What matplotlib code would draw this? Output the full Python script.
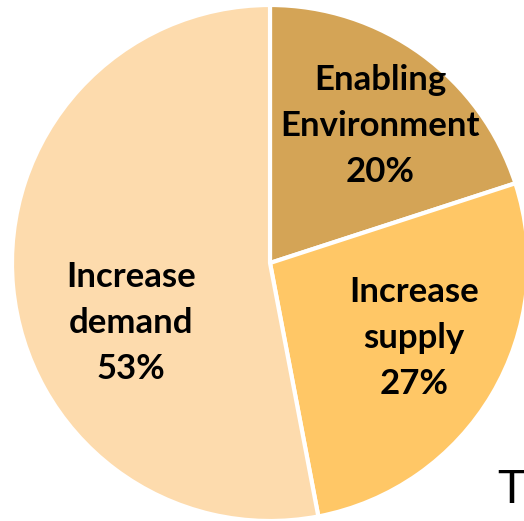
import matplotlib
matplotlib.use("Agg")
import matplotlib.pyplot as plt

# Share of effort by area
labels = ["Enabling\nEnvironment", "Increase\nsupply", "Increase\ndemand"]
values = [20, 27, 53]
colors = ["#D4A456", "#FFC766", "#FDDBAD"]

W, H = 524, 521
fig = plt.figure(figsize=(W / 100, H / 100), dpi=100)
ax = fig.add_axes([0, 0, 1, 1])

cx, cy, r = 270, H - 263, 258
ax.pie(values, colors=colors, startangle=90, counterclock=False,
       center=(cx, cy), radius=r, frame=True,
       wedgeprops=dict(edgecolor="white", linewidth=3))
ax.set_xlim(0, W)
ax.set_ylim(0, H)
ax.set_aspect("equal")
ax.axis("off")

label_pos = [(380, H - 126), (414, H - 338), (131, H - 323)]
for lab, v, (x, y) in zip(labels, values, label_pos):
    ax.text(x, y, f"{lab}\n{v}%", ha="center", va="center",
            fontsize=25, fontweight="bold", family="Lato",
            linespacing=1.52, color="black")

ax.text(497, H - 503, "T", ha="left", va="baseline", fontsize=34,
        family="Lato", color="black")

fig.savefig("out.png", dpi=100)
